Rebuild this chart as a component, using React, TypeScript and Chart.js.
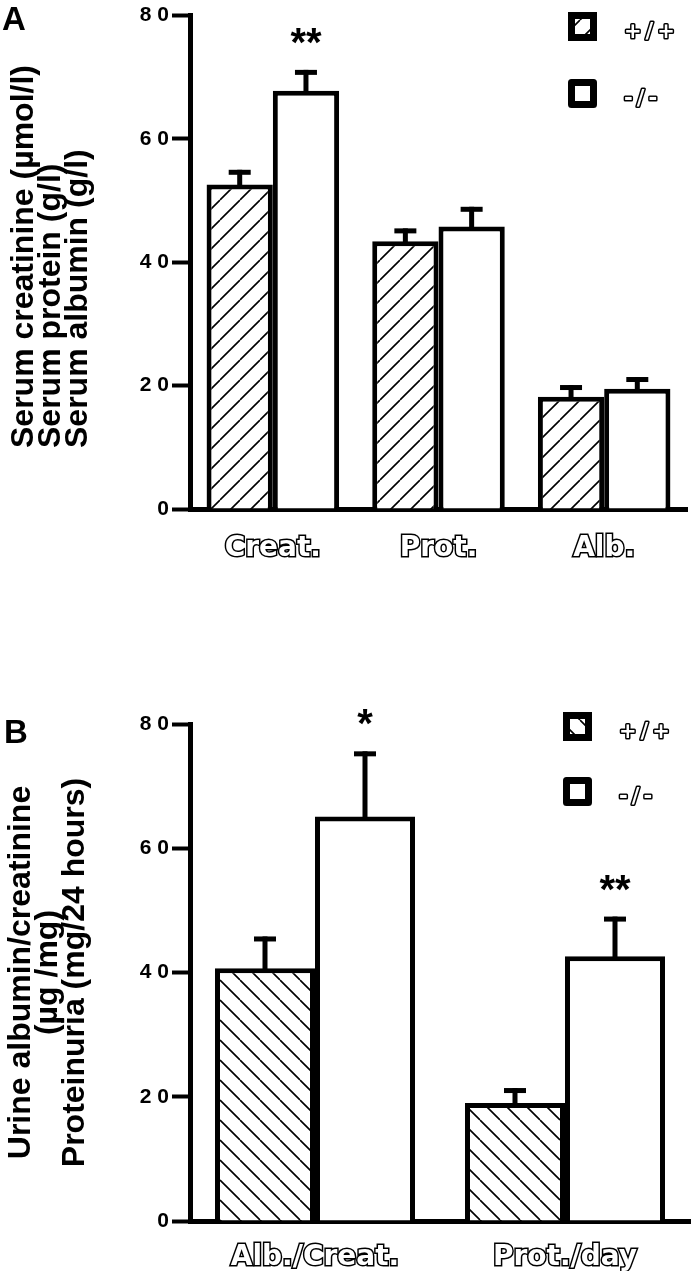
import React, { useEffect, useRef } from 'react';
import { Chart, registerables } from 'chart.js';

Chart.register(...registerables);

// ---------- data ----------
const seriesLabels = ['+/+', '-/-'];
const yTicks = [0, 20, 40, 60, 80];

const panelACategories = ['Creat.', 'Prot.', 'Alb.'];
const panelAWildType = [52.6, 43.4, 18.2];
const panelAWildTypeSem = [2.4, 2.1, 1.9];
const panelAKnockout = [67.8, 45.8, 19.5];
const panelAKnockoutSem = [3.4, 3.2, 1.9];
const panelAWildTypeSig = ['', '', ''];
const panelAKnockoutSig = ['**', '', ''];
const panelATitle = ['Serum creatinine (µmol/l)', 'Serum protein (g/l)', 'Serum albumin (g/l)'];

const panelBCategories = ['Alb./Creat.', 'Prot./day'];
const panelBWildType = [40.7, 19.0];
const panelBWildTypeSem = [5.1, 2.4];
const panelBKnockout = [65.1, 42.6];
const panelBKnockoutSem = [10.5, 6.4];
const panelBWildTypeSig = ['', ''];
const panelBKnockoutSig = ['*', '**'];
const panelBTitle = ['Urine albumin/creatinine', '(µg /mg)', 'Proteinuria (mg/24 hours)'];

// ---------- helpers ----------
function makeHatch(ctx: CanvasRenderingContext2D, dir: number) {
  const s = 20;
  const c = document.createElement('canvas');
  c.width = s;
  c.height = s;
  const g = c.getContext('2d')!;
  g.fillStyle = '#fff';
  g.fillRect(0, 0, s, s);
  g.strokeStyle = '#000';
  g.lineWidth = 1.6;
  g.beginPath();
  for (let k = -1; k <= 1; k++) {
    if (dir > 0) {
      g.moveTo(k * s, s);
      g.lineTo(k * s + s, 0);
    } else {
      g.moveTo(k * s, 0);
      g.lineTo(k * s + s, s);
    }
  }
  g.stroke();
  return ctx.createPattern(c, 'repeat');
}

const SANS = '"Liberation Sans", Arial, sans-serif';
const WIDE = '"DejaVu Sans", sans-serif';

function extrasPlugin(cfg: any) {
  return {
    id: 'extras',
    afterDatasetsDraw(chart: any) {
      const ctx = chart.ctx;
      const yScale = chart.scales.y;
      chart.data.datasets.forEach((ds: any, di: number) => {
        const meta = chart.getDatasetMeta(di);
        const sem = cfg.sems[di];
        const sig = cfg.sigs[di];
        meta.data.forEach((el: any, i: number) => {
          const x = el.x;
          const top = el.y;
          const yErr = yScale.getPixelForValue(ds.data[i] + sem[i]);
          ctx.save();
          ctx.fillStyle = '#000';
          ctx.fillRect(x - 2.5, yErr, 5, top - yErr + 2);
          ctx.fillRect(x - 11, yErr, 22, 5);
          if (sig[i]) {
            ctx.font = 'bold 40px ' + SANS;
            ctx.textAlign = 'center';
            ctx.textBaseline = 'alphabetic';
            ctx.fillText(sig[i], x, yErr - 37 + 23);
          }
          ctx.restore();
        });
      });
    },
    afterDraw(chart: any) {
      const ctx = chart.ctx;
      ctx.save();
      // legend
      const lg = cfg.legend;
      chart.data.datasets.forEach((ds: any, di: number) => {
        const bx = lg.x;
        const by = lg.y + di * lg.gap;
        ctx.fillStyle = ds.backgroundColor;
        ctx.fillRect(bx, by, 29, 29);
        ctx.strokeStyle = '#000';
        ctx.lineWidth = 7;
        ctx.strokeRect(bx + 3.5, by + 3.5, 22, 22);
        ctx.font = 'bold 21px ' + WIDE;
        (ctx as any).letterSpacing = '4px';
        ctx.textAlign = 'left';
        ctx.textBaseline = 'middle';
        ctx.lineWidth = 3;
        ctx.lineJoin = 'round';
        ctx.strokeText(ds.label, bx + 56, by + 14.5 + 6);
        ctx.fillStyle = '#fff';
        ctx.fillText(ds.label, bx + 56, by + 14.5 + 6);
        (ctx as any).letterSpacing = '0px';
      });
      // panel letter
      ctx.fillStyle = '#000';
      ctx.font = 'bold 33px ' + SANS;
      ctx.textAlign = 'left';
      ctx.textBaseline = 'alphabetic';
      ctx.fillText(cfg.letter.text, cfg.letter.x, cfg.letter.y);
      // side title (left aligned lines)
      if (cfg.sideTitle) {
        const st = cfg.sideTitle;
        ctx.font = 'bold 32px ' + SANS;
        st.lines.forEach((line: string, i: number) => {
          ctx.save();
          ctx.translate(st.x0 + i * st.gap, st.y0);
          ctx.rotate(-Math.PI / 2);
          ctx.textAlign = 'left';
          ctx.textBaseline = 'alphabetic';
          ctx.fillText(line, 0, 0);
          ctx.restore();
        });
      }
      ctx.restore();
    },
  };
}

function buildConfig(ctx: CanvasRenderingContext2D, p: any) {
  const hatch = makeHatch(ctx, p.hatchDir);
  return {
    type: 'bar',
    data: {
      labels: p.categories,
      datasets: [
        {
          label: seriesLabels[0],
          data: p.wild,
          backgroundColor: hatch,
          borderColor: '#000',
          borderWidth: 5,
          borderSkipped: 'start',
          categoryPercentage: 0.8,
          barPercentage: 1.0,
        },
        {
          label: seriesLabels[1],
          data: p.ko,
          backgroundColor: '#fff',
          borderColor: '#000',
          borderWidth: 5,
          borderSkipped: 'start',
          categoryPercentage: 0.8,
          barPercentage: 1.0,
        },
      ],
    },
    options: {
      animation: false,
      responsive: false,
      devicePixelRatio: 1,
      layout: { padding: p.padding },
      plugins: {
        legend: { display: false },
        tooltip: { enabled: false },
      },
      scales: {
        x: {
          z: 1,
          afterFit: (s: any) => {
            s.height = 50;
          },
          grid: { display: false, drawTicks: false },
          border: { display: true, width: 5, color: '#000' },
          ticks: {
            color: '#fff',
            textStrokeColor: '#000',
            textStrokeWidth: 3,
            font: { family: WIDE, size: 28, weight: 'bold' },
            padding: p.labelPad,
            maxRotation: 0,
            autoSkip: false,
          },
        },
        y: {
          z: 1,
          min: yTicks[0],
          max: yTicks[yTicks.length - 1],
          afterBuildTicks: (s: any) => {
            s.ticks = yTicks.map((v) => ({ value: v }));
          },
          afterFit: (s: any) => {
            s.width = 190;
          },
          grid: {
            drawOnChartArea: false,
            tickLength: 18,
            tickWidth: 4,
            tickColor: '#000',
          },
          border: { display: true, width: 5, color: '#000' },
          ticks: {
            color: '#000',
            padding: 3,
            font: { family: SANS, size: 21, weight: 'bold' },
            callback: (v: any) => String(v).split('').join(' '),
          },
          title: p.axisTitle
            ? {
                display: true,
                text: p.axisTitle,
                color: '#000',
                font: { family: SANS, size: 32, weight: 'bold', lineHeight: 27 / 32 },
                padding: { top: 8, bottom: 0 },
              }
            : { display: false },
        },
      },
    },
    plugins: [extrasPlugin(p.extras)],
  };
}

function Panel(props: { p: any; top: number }) {
  const ref = useRef<HTMLCanvasElement>(null);
  useEffect(() => {
    const canvas = ref.current!;
    const ctx = canvas.getContext('2d')!;
    const chart = new Chart(ctx, buildConfig(ctx, props.p) as any);
    return () => chart.destroy();
  }, []);
  return (
    <canvas
      ref={ref}
      width={697}
      height={640}
      style={{ position: 'absolute', left: 0, top: props.top, width: 697, height: 640, display: 'block' }}
    />
  );
}

const panelA = {
  categories: panelACategories,
  wild: panelAWildType,
  ko: panelAKnockout,
  hatchDir: 1,
  labelPad: 23,
  padding: { left: 0, top: 13, right: 10, bottom: 81 },
  axisTitle: null,
  extras: {
    sems: [panelAWildTypeSem, panelAKnockoutSem],
    sigs: [panelAWildTypeSig, panelAKnockoutSig],
    legend: { x: 568, y: 12, gap: 67 },
    letter: { text: 'A', x: 2, y: 30 },
    sideTitle: { lines: panelATitle, x0: 33, gap: 27, y0: 448 },
  },
};

const panelB = {
  categories: panelBCategories,
  wild: panelBWildType,
  ko: panelBKnockout,
  hatchDir: -1,
  labelPad: 20,
  padding: { left: 0, top: 84, right: 7, bottom: 9 },
  axisTitle: panelBTitle,
  extras: {
    sems: [panelBWildTypeSem, panelBKnockoutSem],
    sigs: [panelBWildTypeSig, panelBKnockoutSig],
    legend: { x: 563, y: 72, gap: 65 },
    letter: { text: 'B', x: 4, y: 103 },
    sideTitle: null,
  },
};

export default function App() {
  return (
    <div style={{ position: 'absolute', left: 0, top: 0, width: 697, height: 1280, background: '#fff' }}>
      <Panel p={panelA} top={0} />
      <Panel p={panelB} top={640} />
    </div>
  );
}
